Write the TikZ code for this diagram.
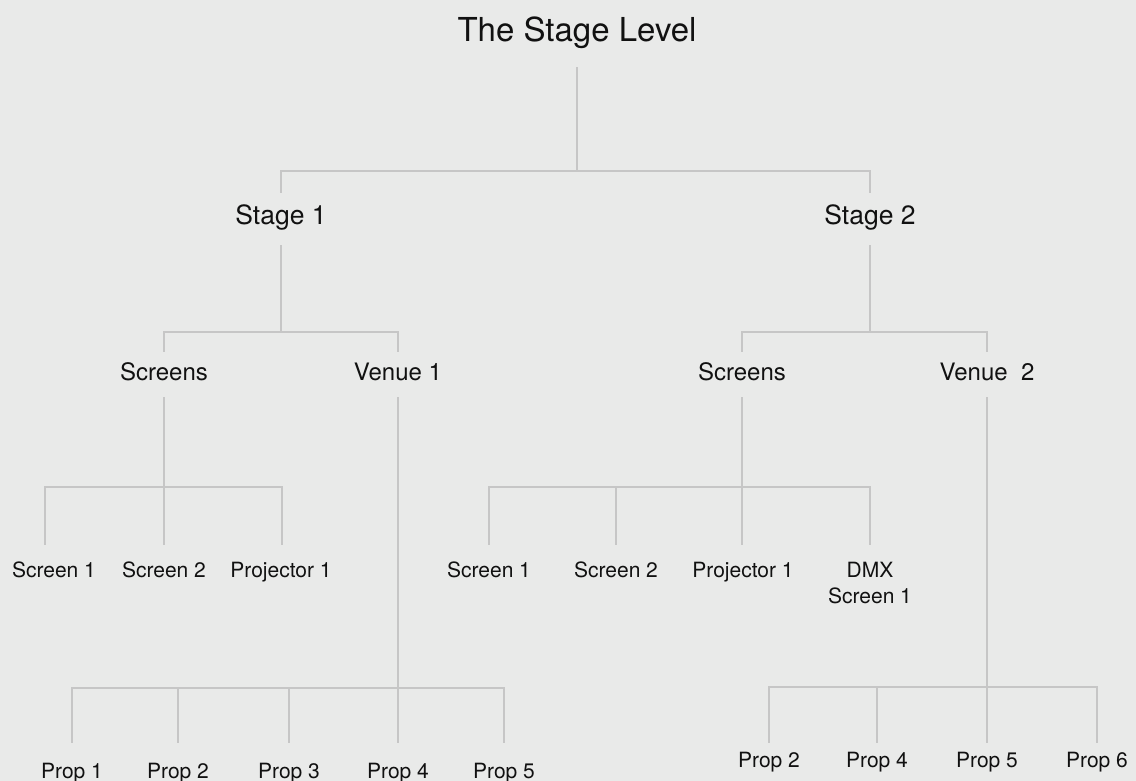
\documentclass[tikz,border=0pt]{standalone}
\usepackage{fontspec}
\setmainfont{TeX Gyre Heros}
\definecolor{paper}{HTML}{E9EAE9}
\definecolor{wire}{HTML}{C6C6C6}
\definecolor{ink}{HTML}{111111}
\tikzset{
  lbl/.style={text=ink,inner sep=0pt,text depth=0pt},
  toplbl/.style={lbl,font=\fontsize{33}{38}\selectfont,text height=24pt},
  stagelbl/.style={lbl,font=\fontsize{26.5}{30}\selectfont,text height=19pt},
  grouplbl/.style={lbl,font=\fontsize{24}{28}\selectfont,text height=17pt},
  leaflbl/.style={lbl,font=\fontsize{21}{26}\selectfont,text height=15pt},
  link/.style={draw=wire,line width=1.8pt}
}

\begin{document}
\begin{tikzpicture}[x=1pt,y=-1pt]
  \fill[paper] (0,0) rectangle (1136,781);
  \useasboundingbox (0,0) rectangle (1136,781);

  % root
  \node[toplbl,anchor=north] (top) at (577,17) {The Stage Level};
  \coordinate (bartop) at (577,171);
  \draw[link,shorten <=26pt] (top.south) -- (bartop);
  \foreach \n/\x/\t in {stage1/281/Stage 1,stage2/870/Stage 2}{
    \node[stagelbl,anchor=north] (\n) at (\x,205) {\t};
    \draw[link,shorten >=12pt] (bartop) -| (\n.north);
  }

  % stage 1
  \coordinate (barst1) at (281,332);
  \draw[link,shorten <=21pt] (stage1.south) -- (barst1);
  \foreach \n/\x/\t in {scrA/164/Screens,venA/398/Venue 1}{
    \node[grouplbl,anchor=north] (\n) at (\x,363) {\t};
    \draw[link,shorten >=11pt] (barst1) -| (\n.north);
  }

  % stage 2
  \coordinate (barst2) at (870,332);
  \draw[link,shorten <=21pt] (stage2.south) -- (barst2);
  \foreach \n/\x/\t in {scrB/742/Screens,venB/987/Venue\ \ 2}{
    \node[grouplbl,anchor=north] (\n) at (\x,363) {\t};
    \draw[link,shorten >=11pt] (barst2) -| (\n.north);
  }

  % screens of stage 1
  \coordinate (barscrA) at (164,487);
  \draw[link,shorten <=17pt] (scrA.south) -- (barscrA);
  \foreach \n/\x/\dx/\t in {sA1/54/-9/Screen 1,sA2/164/0/Screen 2,sA3/281/1/Projector 1}{
    \node[leaflbl,anchor=north] (\n) at (\x,562) {\t};
    \draw[link,shorten >=17pt] (barscrA) -| ([xshift=\dx pt]\n.north);
  }

  % screens of stage 2
  \coordinate (barscrB) at (742,487);
  \draw[link,shorten <=17pt] (scrB.south) -- (barscrB);
  \foreach \n/\x/\dx/\t in {sB1/489/0/Screen 1,sB2/616/0/Screen 2,sB3/743/-1/Projector 1}{
    \node[leaflbl,anchor=north] (\n) at (\x,562) {\t};
    \draw[link,shorten >=17pt] (barscrB) -| ([xshift=\dx pt]\n.north);
  }
  \node[leaflbl,text height=41pt,anchor=north,align=center] (dmx) at (870,562) {DMX\\Screen 1};
  \draw[link,shorten >=17pt] (barscrB) -| (dmx.north);

  % props of venue 1
  \coordinate (barvenA) at (398,688);
  \draw[link,shorten <=17pt] (venA.south) -- (barvenA);
  \foreach \n/\x/\t in {pA1/72/Prop 1,pA2/178/Prop 2,pA3/289/Prop 3,pA4/398/Prop 4,pA5/504/Prop 5}{
    \node[leaflbl,anchor=north] (\n) at (\x,763) {\t};
    \draw[link,shorten >=20pt] (barvenA) -| (\n.north);
  }

  % props of venue 2
  \coordinate (barvenB) at (987,687);
  \draw[link,shorten <=17pt] (venB.south) -- (barvenB);
  \foreach \n/\x/\t in {pB2/769/Prop 2,pB4/877/Prop 4,pB5/987/Prop 5,pB6/1097/Prop 6}{
    \node[leaflbl,anchor=north] (\n) at (\x,752) {\t};
    \draw[link,shorten >=9pt] (barvenB) -| (\n.north);
  }
\end{tikzpicture}
\end{document}
